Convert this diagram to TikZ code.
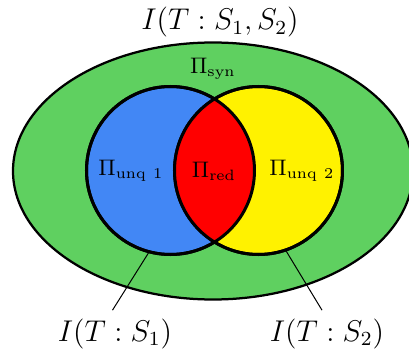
\documentclass[tikz,border=0pt]{standalone}
\usetikzlibrary{shapes.geometric}
\definecolor{syngreen}{HTML}{5FD060}
\definecolor{unqblue}{HTML}{4287F5}
\tikzset{
	circ/.style={shape=circle, draw, line width=1.2pt, minimum size=67.2pt, inner sep=0pt},
	biglbl/.style={font=\fontsize{11.6}{14}\selectfont},
	piLbl/.style={font=\fontsize{8.7}{10}\selectfont},
}
\begin{document}
\begin{tikzpicture}[x=0.4pt, y=-0.4pt]
			\useasboundingbox (0, 0) rectangle (409, 354);

			\node[shape=ellipse, draw, fill=syngreen, line width=0.9pt, minimum width=160pt, minimum height=102.8pt, inner sep=0pt] (syn) at (213, 171){};
			\node[circ, fill=unqblue] (s1) at (170.5, 170.5){};
			\node[circ, fill=yellow] (s2) at (258.5, 170.5){};

			% overlap
			\begin{scope}
				\clip (s1.center) circle (84);
				\fill[red] (s2.center) circle (84);
			\end{scope}
			\draw[line width=1.2pt] (s1.center) circle (84);
			\draw[line width=1.2pt] (s2.center) circle (84);

			\node[biglbl] (all) at (220, 22){$I(T:S_1,S_2)$};
			\node[piLbl] (syntxt) at (213, 69){$\Pi_{\mathrm{syn}}$};
			\node[piLbl] (unq1) at (131, 171){$\Pi_{\mathrm{unq\ 1}}$};
			\node[piLbl] (red) at (214, 171){$\Pi_{\mathrm{red}}$};
			\node[piLbl] (unq2) at (302, 171){$\Pi_{\mathrm{unq\ 2}}$};
			\node[biglbl] (i1) at (115, 334){$I(T:S_1)$};
			\node[biglbl] (i2) at (327, 334){$I(T:S_2)$};

			\draw[line width=0.4pt] (s1.-105) to ([xshift=-1pt]i1.north);
			\draw[line width=0.4pt] (s2.-71) to ([xshift=-2pt]i2.north);
		\end{tikzpicture}
\end{document}
